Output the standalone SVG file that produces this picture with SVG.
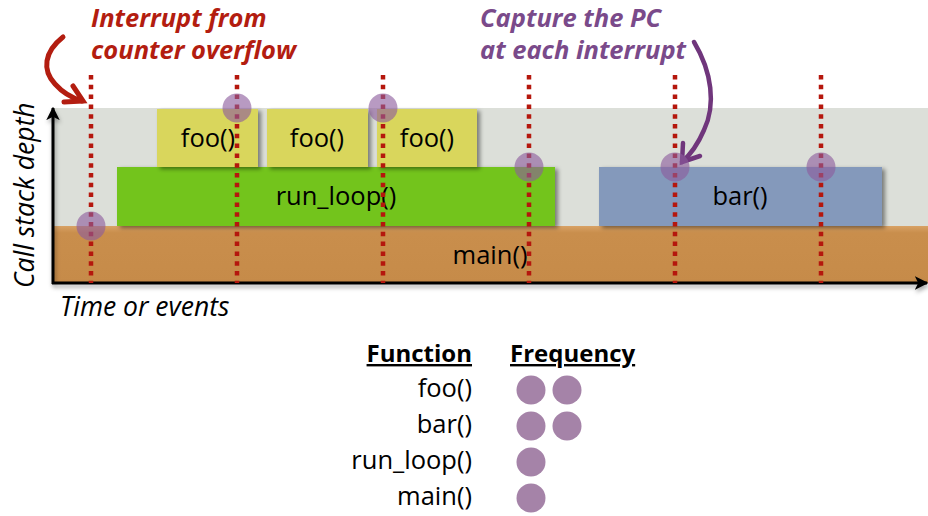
<svg xmlns="http://www.w3.org/2000/svg" width="928" height="516" viewBox="0 0 928 516">
  <defs>
    <filter id="shadow" x="-10%" y="-20%" width="130%" height="150%">
      <feDropShadow dx="3" dy="2" stdDeviation="2" flood-color="#000" flood-opacity="0.45"/>
    </filter>
    <filter id="axisShadow" x="-5%" y="-20%" width="110%" height="200%">
      <feDropShadow dx="1" dy="3" stdDeviation="2" flood-color="#000" flood-opacity="0.35"/>
    </filter>
    <marker id="axisHead" viewBox="0 0 10 10" refX="9" refY="5" markerWidth="4.5" markerHeight="4.5" orient="auto">
      <path d="M0,0 L10,5 L0,10 L2.5,5 z" fill="#000"/>
    </marker>
    <linearGradient id="mainFill" x1="0" y1="0" x2="0" y2="1">
      <stop offset="0" stop-color="#d8a266"/>
      <stop offset="0.12" stop-color="#c98e4c"/>
      <stop offset="1" stop-color="#c68b49"/>
    </linearGradient>
  </defs>
  <style>
    .lbl { font-family: "Open Sans", "Liberation Sans", sans-serif; font-size: 25.5px; fill: #000; }
    .mid { text-anchor: middle; }
    .axis-lbl { font-family: "Open Sans", "Liberation Sans", sans-serif; font-size: 26.5px; font-style: italic; fill: #000; }
    .note { font-family: "Open Sans", "Liberation Sans", sans-serif; font-size: 25.5px; font-weight: bold; font-style: italic; }
    .head { font-family: "Open Sans", "Liberation Sans", sans-serif; font-size: 24px; font-weight: bold; text-decoration: underline; fill: #000; }
    .row { font-family: "Open Sans", "Liberation Sans", sans-serif; font-size: 25.5px; fill: #000; text-anchor: end; }
    .tick { stroke: #b5170d; stroke-width: 4.5; stroke-dasharray: 4.5 5.3; fill: none; }
    .sample { fill: #8c5c9c; fill-opacity: 0.62; }
    .count { fill: #a583a8; }
    .box { filter: url(#shadow); }
  </style>

  <!-- plot area backdrop -->
  <rect x="53" y="108" width="875" height="175" fill="#dcdfd9"/>

  <!-- stack frames -->
  <g id="main-frame">
    <rect x="53" y="226" width="875" height="57" fill="url(#mainFill)"/>
    <text class="lbl mid" x="490" y="264">main()</text>
  </g>
  <g id="run-loop-frame">
    <rect class="box" x="117" y="167" width="438" height="59" fill="#73c41b"/>
    <text class="lbl mid" x="336" y="205">run_loop()</text>
  </g>
  <g id="foo-frame-1">
    <rect class="box" x="157" y="109" width="101" height="58" fill="#d9d65b"/>
    <text class="lbl mid" x="208" y="147">foo()</text>
  </g>
  <g id="foo-frame-2">
    <rect class="box" x="267" y="109" width="101" height="58" fill="#d9d65b"/>
    <text class="lbl mid" x="317" y="147">foo()</text>
  </g>
  <g id="foo-frame-3">
    <rect class="box" x="377" y="109" width="100" height="58" fill="#d9d65b"/>
    <text class="lbl mid" x="427" y="147">foo()</text>
  </g>
  <g id="bar-frame">
    <rect class="box" x="599" y="167" width="283" height="59" fill="#8499bb"/>
    <text class="lbl mid" x="740" y="205">bar()</text>
  </g>

  <!-- axes -->
  <g id="axes" filter="url(#axisShadow)">
    <line x1="53" y1="284" x2="53" y2="108" stroke="#000" stroke-width="3" marker-end="url(#axisHead)"/>
    <line x1="52" y1="283" x2="927" y2="283" stroke="#000" stroke-width="3" marker-end="url(#axisHead)"/>
  </g>
  <text class="axis-lbl" transform="translate(34,288) rotate(-90)">Call stack depth</text>
  <text class="axis-lbl" x="60" y="316">Time or events</text>

  <!-- interrupt ticks and call-out arrows -->
  <g id="connectors">
    <line class="tick" x1="91" y1="75" x2="91" y2="283"/>
    <line class="tick" x1="237" y1="75" x2="237" y2="283"/>
    <line class="tick" x1="383" y1="75" x2="383" y2="283"/>
    <line class="tick" x1="529" y1="75" x2="529" y2="283"/>
    <line class="tick" x1="675" y1="75" x2="675" y2="283"/>
    <line class="tick" x1="821" y1="75" x2="821" y2="283"/>

    <path d="M63,37 C44,52 42,70 55,84 C63,93 72,98 82,101" fill="none" stroke="#b31d10" stroke-width="5" stroke-linecap="round"/>
    <path d="M73,86 L83,101 L64,102" fill="none" stroke="#b31d10" stroke-width="5" stroke-linecap="round" stroke-linejoin="miter"/>

    <path d="M694,42 C712,72 716,105 704,130 C698,144 690,155 682,162" fill="none" stroke="#70367c" stroke-width="4.5" stroke-linecap="round"/>
    <path d="M683,143 L682,162 L700,156" fill="none" stroke="#70367c" stroke-width="4.5" stroke-linecap="round" stroke-linejoin="miter"/>
  </g>

  <!-- sampled program counters -->
  <g id="samples">
    <circle class="sample" cx="91" cy="226" r="14.5"/>
    <circle class="sample" cx="237" cy="108" r="14.5"/>
    <circle class="sample" cx="383" cy="108" r="14.5"/>
    <circle class="sample" cx="529" cy="167" r="14.5"/>
    <circle class="sample" cx="675" cy="167" r="14.5"/>
    <circle class="sample" cx="821" cy="167" r="14.5"/>
  </g>

  <!-- call-out notes -->
  <g id="note-interrupt">
    <text class="note" fill="#b31d10" x="91" y="27">Interrupt from</text>
    <text class="note" fill="#b31d10" x="91" y="59">counter overflow</text>
  </g>
  <g id="note-capture">
    <text class="note" fill="#7a4a8a" x="480" y="27">Capture the PC</text>
    <text class="note" fill="#7a4a8a" x="480" y="59">at each interrupt</text>
  </g>

  <!-- histogram table -->
  <g id="table">
    <text class="head" x="472" y="362" text-anchor="end">Function</text>
    <text class="head" x="510" y="362">Frequency</text>
    <text class="row" x="472" y="397">foo()</text>
    <text class="row" x="472" y="433">bar()</text>
    <text class="row" x="472" y="469">run_loop()</text>
    <text class="row" x="472" y="505">main()</text>
    <circle class="count" cx="531" cy="390" r="14.5"/>
    <circle class="count" cx="567" cy="390" r="14.5"/>
    <circle class="count" cx="531" cy="426" r="14.5"/>
    <circle class="count" cx="567" cy="426" r="14.5"/>
    <circle class="count" cx="531" cy="462" r="14.5"/>
    <circle class="count" cx="531" cy="498" r="14.5"/>
  </g>
</svg>
